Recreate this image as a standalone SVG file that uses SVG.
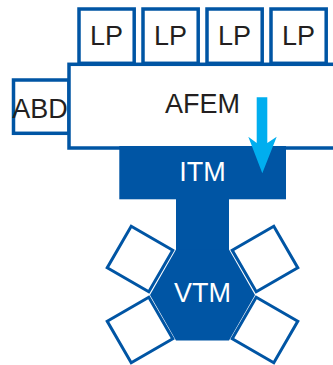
<svg xmlns="http://www.w3.org/2000/svg" width="333" height="365" viewBox="0 0 333 365">
<style>
.box{fill:#fff;stroke:#0055A4;stroke-width:3.5}
.sq{fill:#fff;stroke:#0055A4;stroke-width:3}
.dark{fill:#0055A4}
.t{font-family:"Liberation Sans",Arial,sans-serif;font-size:27px;fill:#231F20;text-anchor:middle}
.w{fill:#fff}
</style>
<rect width="333" height="365" fill="#fff"/>
<g id="lp1"><rect class="box" x="79" y="9" width="55.2" height="54.3"/><text class="t" x="106.6" y="44.8">LP</text></g>
<g id="lp2"><rect class="box" x="143" y="9" width="55.2" height="54.3"/><text class="t" x="170.6" y="44.8">LP</text></g>
<g id="lp3"><rect class="box" x="207" y="9" width="55.2" height="54.3"/><text class="t" x="234.6" y="44.8">LP</text></g>
<g id="lp4"><rect class="box" x="271" y="9" width="55.2" height="54.3"/><text class="t" x="298.6" y="44.8">LP</text></g>
<g id="abd"><rect class="box" x="13.5" y="80" width="55.5" height="53.3"/><text class="t" x="40" y="117.5">ABD</text></g>
<g id="afem"><rect class="box" x="69" y="64.3" width="300" height="83.7"/><text class="t" x="202.5" y="113.3">AFEM</text></g>
<g id="squares">
<rect class="sq" x="-24" y="-24" width="48" height="48" transform="translate(140,259) rotate(30)"/>
<rect class="sq" x="-24" y="-24" width="48" height="48" transform="translate(265,259) rotate(-30)"/>
<rect class="sq" x="-24" y="-24" width="48" height="48" transform="translate(140,330) rotate(-30)"/>
<rect class="sq" x="-24" y="-24" width="48" height="48" transform="translate(265,330) rotate(30)"/>
</g>
<g id="itm"><rect class="dark" x="119.3" y="146" width="166.7" height="53.3"/><text class="t w" x="202.5" y="181">ITM</text></g>
<g id="vtm">
<rect class="dark" x="176" y="198" width="53" height="54"/>
<polygon class="dark" points="150,295 176,249.5 229,249.5 255,295 229,340.5 176,340.5"/>
<text class="t w" x="202.5" y="302">VTM</text>
</g>
<g id="connectors">
<path fill="#00AEEF" d="M256.7,97.3 L267.3,97.3 L267.3,143 L276.7,136.7 L262.3,173.3 L248.3,136.7 L256.7,143 Z"/>
</g>
</svg>
